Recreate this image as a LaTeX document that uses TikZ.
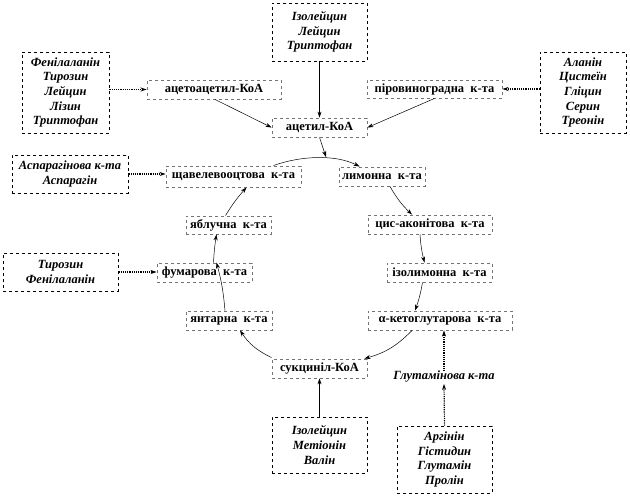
\documentclass[tikz,border=0pt]{standalone}
\usepackage{fontspec}
\setmainfont{Liberation Serif}
\usetikzlibrary{arrows.meta}
\begin{document}
\begin{tikzpicture}[x=1pt,y=-1pt,
  amino/.style={draw=black,dashed,line width=0.6pt,align=center,inner sep=0pt,
    font=\fontsize{12.5}{14.6}\selectfont\bfseries\itshape},
  inter/.style={draw=black!55,dashed,line width=0.9pt,align=center,inner sep=0pt,
    font=\fontsize{12.5}{14.6}\selectfont\bfseries},
  cyc/.style={-{Stealth[length=6pt,width=4pt]},line width=0.5pt},
  feed/.style={-{Stealth[length=6pt,width=4pt]},line width=1.2pt,densely dotted}]
\useasboundingbox (0,0) rectangle (630,496);
% amino acid boxes
\node[amino,minimum width=95,minimum height=58] (top) at (319.5,32) {Ізолейцин\\Лейцин\\Триптофан};
\node[amino,minimum width=87,minimum height=81] (la) at (65.5,92.5) {Фенілаланін\\Тирозин\\Лейцин\\Лізин\\Триптофан};
\node[amino,minimum width=86,minimum height=81] (ra) at (583,92.5) {Аланін\\Цистеїн\\Гліцин\\Серин\\Треонін};
\node[amino,minimum width=116,minimum height=38] (asp) at (70,174) {Аспарагінова к-та\\Аспарагін};
\node[amino,minimum width=115,minimum height=38] (tyr) at (60.5,272) {Тирозин\\Фенілаланін};
\node[amino,minimum width=95,minimum height=56] (bc) at (319.5,445) {Ізолейцин\\Метіонін\\Валін};
\node[amino,minimum width=95,minimum height=67] (br) at (444.5,459.5) {Аргінін\\Гістидин\\Глутамін\\Пролін};
\node[font=\fontsize{12.5}{14.6}\selectfont\bfseries\itshape,inner sep=0pt] (glu) at (444,377) {Глутамінова к-та};
% intermediates
\node[inter,minimum width=134,minimum height=19] (aac) at (214,89.5) {ацетоацетил-КоА};
\node[inter,minimum width=95,minimum height=19] (ac) at (319.5,127.5) {ацетил-КоА};
\node[inter,minimum width=135,minimum height=18] (pyr) at (434.5,89) {піровиноградна\ \ к-та};
\node[inter,minimum width=135,minimum height=21] (oxa) at (233.5,176.5) {щавелевооцтова\ \ к-та};
\node[inter,minimum width=86,minimum height=19] (cit) at (382,176.5) {лимонна\ \ к-та};
\node[inter,minimum width=85,minimum height=18] (mal) at (228.5,225) {яблучна\ \ к-та};
\node[inter,minimum width=124,minimum height=19] (cis) at (430,224.5) {цис-аконітова\ \ к-та};
\node[inter,minimum width=95,minimum height=19] (fum) at (204.5,272.5) {фумарова\ \ к-та};
\node[inter,minimum width=105,minimum height=19] (iso) at (439.5,272.5) {ізолимонна\ \ к-та};
\node[inter,minimum width=86,minimum height=19] (suc) at (229,320.5) {янтарна\ \ к-та};
\node[inter,minimum width=144,minimum height=19] (akg) at (440,320.5) {α-кетоглутарова\ \ к-та};
\node[inter,minimum width=95,minimum height=19] (scoa) at (319.5,368.5) {сукциніл-КоА};
% feeding arrows
\draw[feed] (la.east |- aac) -- (aac.west);
\draw[feed] (ra.west |- pyr) -- (pyr.east);
\draw[feed] (asp.east) -- (asp.east -| oxa.west);
\draw[feed] (tyr.east) -- (tyr.east -| fum.west);
\draw[feed] (glu.north) -- (glu.north |- akg.south);
\draw[feed] (br.north) -- ([yshift=-1pt]glu.south);
% top arrows
\draw[cyc] (top.south) -- (ac.north);
\draw[cyc] ([xshift=1pt]aac.south) -- (ac.west);
\draw[cyc] (pyr.south) -- (ac.east);
\draw[cyc] (bc.north) -- (scoa.south);
% cycle
\coordinate (m) at (326,157);
\draw[cyc] ([xshift=-28pt]oxa.north east) .. controls (300,156) and (335,154) .. ([xshift=21pt]cit.north west);
\draw[cyc] (ac.south) -- (m);
\draw[cyc] ([xshift=8pt]cit.south) to[bend right=8] ([xshift=-18pt]cis.north);
\draw[cyc] ([xshift=-10pt]cis.south) to[bend right=5] ([xshift=-15pt]iso.north);
\draw[cyc] ([xshift=-17pt]iso.south) to[bend left=5] ([xshift=-25pt]akg.north);
\draw[cyc] ([xshift=-28pt]akg.south) to[bend left=15] ([xshift=-3pt]scoa.north east);
\draw[cyc] ([yshift=1pt]scoa.north west) to[bend left=15] ([xshift=11pt]suc.south);
\draw[cyc] ([xshift=-4pt]suc.north) to[bend right=5] ([xshift=12pt]fum.north);
\draw[cyc] ([xshift=9pt]fum.north) to[bend left=3] ([xshift=-12pt]mal.south);
\draw[cyc] ([xshift=-3pt]mal.north) to[bend left=5] ([xshift=13pt]oxa.south);
\end{tikzpicture}
\end{document}
